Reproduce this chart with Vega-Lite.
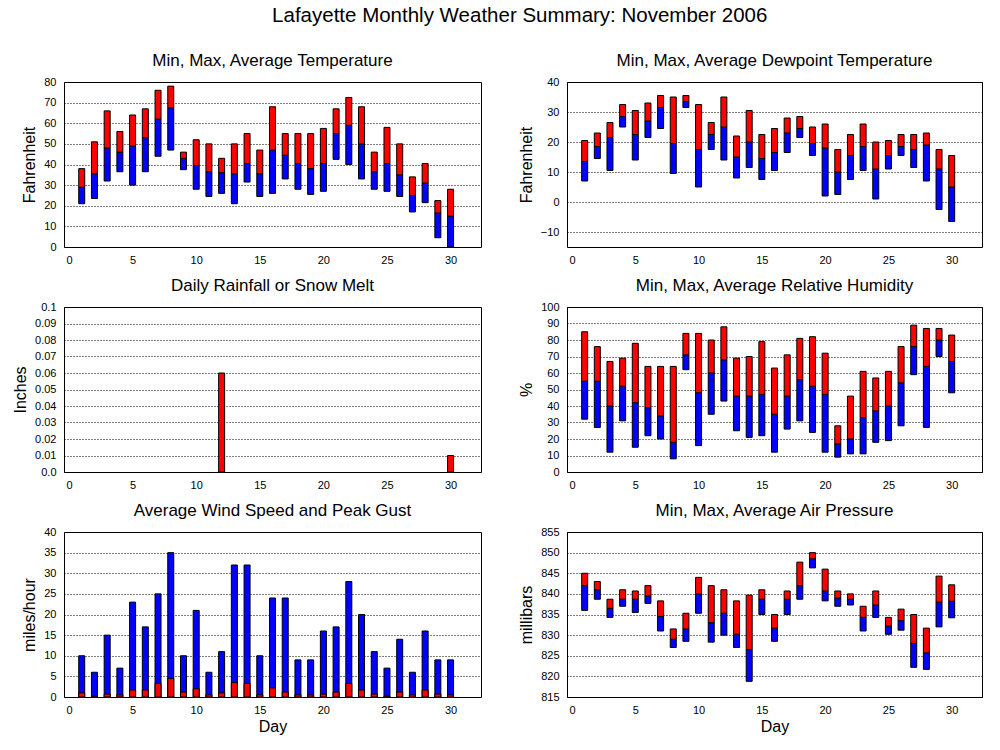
{
  "$schema": "https://vega.github.io/schema/vega-lite/v6.json",
  "title": {"text": "Lafayette Monthly Weather Summary: November 2006", "fontSize": 20.5, "offset": 25, "anchor": "start", "dx": 260},
  "padding": {"left": 12, "top": 6, "right": 18, "bottom": 5},
  "columns": 2,
  "spacing": {"row": 60, "column": 86},
  "bounds": "flush",
  "data": {"values": [
    {"day": 1, "tmin": 21, "tavg": 29, "tmax": 38, "dmin": 7, "davg": 13.5, "dmax": 20.5, "rain": 0, "hmin": 32, "havg": 55, "hmax": 85, "wind": 1, "gust": 10, "pmin": 836, "pavg": 842, "pmax": 845},
    {"day": 2, "tmin": 23.5, "tavg": 35.5, "tmax": 51, "dmin": 14.5, "davg": 18.5, "dmax": 23, "rain": 0, "hmin": 27, "havg": 55, "hmax": 76, "wind": 0.2, "gust": 6, "pmin": 838.7, "pavg": 841, "pmax": 843},
    {"day": 3, "tmin": 32, "tavg": 48, "tmax": 66, "dmin": 10.5, "davg": 21.5, "dmax": 26.5, "rain": 0, "hmin": 12, "havg": 40, "hmax": 67, "wind": 0.7, "gust": 15, "pmin": 834.3, "pavg": 836.5, "pmax": 838.7},
    {"day": 4, "tmin": 36.5, "tavg": 46, "tmax": 56, "dmin": 25, "davg": 28.5, "dmax": 32.5, "rain": 0, "hmin": 31, "havg": 52, "hmax": 69, "wind": 0.5, "gust": 7, "pmin": 837, "pavg": 838.7, "pmax": 841},
    {"day": 5, "tmin": 30, "tavg": 49, "tmax": 64, "dmin": 14, "davg": 22.5, "dmax": 30.5, "rain": 0, "hmin": 15, "havg": 42, "hmax": 78, "wind": 1.7, "gust": 23, "pmin": 835.5, "pavg": 838.7, "pmax": 840.7},
    {"day": 6, "tmin": 36.5, "tavg": 53, "tmax": 67, "dmin": 21.5, "davg": 27, "dmax": 33, "rain": 0, "hmin": 22, "havg": 39, "hmax": 64, "wind": 1.7, "gust": 17, "pmin": 837.7, "pavg": 839.5, "pmax": 842},
    {"day": 7, "tmin": 44, "tavg": 62, "tmax": 76, "dmin": 24.5, "davg": 31.5, "dmax": 35.5, "rain": 0, "hmin": 20, "havg": 34, "hmax": 64, "wind": 3.3, "gust": 25, "pmin": 831, "pavg": 834.5, "pmax": 838.3},
    {"day": 8, "tmin": 47, "tavg": 67.5, "tmax": 78, "dmin": 9.5, "davg": 19.5, "dmax": 35, "rain": 0, "hmin": 8, "havg": 18, "hmax": 64, "wind": 4.5, "gust": 35, "pmin": 827, "pavg": 829, "pmax": 831.5},
    {"day": 9, "tmin": 37.5, "tavg": 43, "tmax": 46, "dmin": 31.5, "davg": 33.5, "dmax": 35.5, "rain": 0, "hmin": 62, "havg": 71, "hmax": 84, "wind": 1.2, "gust": 10, "pmin": 828.5, "pavg": 831.5, "pmax": 835.3},
    {"day": 10, "tmin": 28, "tavg": 39.5, "tmax": 52, "dmin": 5, "davg": 17.5, "dmax": 32.5, "rain": 0, "hmin": 16, "havg": 48, "hmax": 84, "wind": 2, "gust": 21, "pmin": 835.3, "pavg": 840, "pmax": 844},
    {"day": 11, "tmin": 24.5, "tavg": 36.5, "tmax": 50, "dmin": 17.5, "davg": 22.5, "dmax": 26.5, "rain": 0, "hmin": 35, "havg": 60, "hmax": 80, "wind": 0.5, "gust": 6, "pmin": 828.3, "pavg": 833, "pmax": 842},
    {"day": 12, "tmin": 26, "tavg": 36, "tmax": 43, "dmin": 14, "davg": 25, "dmax": 35, "rain": 0.06, "hmin": 43, "havg": 68, "hmax": 88, "wind": 1, "gust": 11, "pmin": 830, "pavg": 835.3, "pmax": 841},
    {"day": 13, "tmin": 21, "tavg": 35.5, "tmax": 50, "dmin": 8, "davg": 15, "dmax": 22, "rain": 0, "hmin": 25, "havg": 46, "hmax": 69, "wind": 3.5, "gust": 32, "pmin": 827, "pavg": 830.2, "pmax": 838.3},
    {"day": 14, "tmin": 31.5, "tavg": 40.5, "tmax": 55, "dmin": 11.5, "davg": 20, "dmax": 30.5, "rain": 0, "hmin": 21, "havg": 46, "hmax": 70, "wind": 3.3, "gust": 32, "pmin": 818.8, "pavg": 826.5, "pmax": 839.7},
    {"day": 15, "tmin": 24.5, "tavg": 35.5, "tmax": 47, "dmin": 7.5, "davg": 14.5, "dmax": 22.5, "rain": 0, "hmin": 22, "havg": 47, "hmax": 79, "wind": 0.5, "gust": 10, "pmin": 835, "pavg": 838.7, "pmax": 841},
    {"day": 16, "tmin": 26, "tavg": 47, "tmax": 68, "dmin": 10.5, "davg": 16.5, "dmax": 24.5, "rain": 0, "hmin": 12, "havg": 35, "hmax": 63, "wind": 2.2, "gust": 24, "pmin": 828.5, "pavg": 831.7, "pmax": 835},
    {"day": 17, "tmin": 33, "tavg": 44.5, "tmax": 55, "dmin": 16.5, "davg": 23, "dmax": 28, "rain": 0, "hmin": 26, "havg": 46, "hmax": 71, "wind": 1.2, "gust": 24, "pmin": 835, "pavg": 838.7, "pmax": 840.7},
    {"day": 18, "tmin": 28, "tavg": 40.5, "tmax": 55, "dmin": 21.5, "davg": 24.5, "dmax": 28.5, "rain": 0, "hmin": 31, "havg": 56, "hmax": 81, "wind": 0.5, "gust": 9, "pmin": 838.7, "pavg": 842, "pmax": 847.7},
    {"day": 19, "tmin": 25.5, "tavg": 38, "tmax": 55, "dmin": 15.5, "davg": 19.5, "dmax": 25, "rain": 0, "hmin": 24, "havg": 52, "hmax": 82, "wind": 0.5, "gust": 9, "pmin": 846.3, "pavg": 848.5, "pmax": 850},
    {"day": 20, "tmin": 27, "tavg": 40.5, "tmax": 57.5, "dmin": 2, "davg": 18, "dmax": 26, "rain": 0, "hmin": 12, "havg": 47, "hmax": 72, "wind": 0.7, "gust": 16, "pmin": 838.3, "pavg": 840.7, "pmax": 846},
    {"day": 21, "tmin": 42.5, "tavg": 55, "tmax": 67, "dmin": 2.5, "davg": 10, "dmax": 17.5, "rain": 0, "hmin": 9, "havg": 17, "hmax": 28, "wind": 1.2, "gust": 17, "pmin": 837, "pavg": 839, "pmax": 840.7},
    {"day": 22, "tmin": 40, "tavg": 59, "tmax": 72.5, "dmin": 7.5, "davg": 15.5, "dmax": 22.5, "rain": 0, "hmin": 11, "havg": 20, "hmax": 46, "wind": 3.3, "gust": 28, "pmin": 837.3, "pavg": 838.7, "pmax": 840},
    {"day": 23, "tmin": 33, "tavg": 50, "tmax": 68, "dmin": 10.5, "davg": 18.5, "dmax": 26, "rain": 0, "hmin": 11, "havg": 33, "hmax": 61, "wind": 1.7, "gust": 20, "pmin": 831, "pavg": 834.3, "pmax": 837},
    {"day": 24, "tmin": 28, "tavg": 36.5, "tmax": 46, "dmin": 1, "davg": 11, "dmax": 20, "rain": 0, "hmin": 18, "havg": 37, "hmax": 57, "wind": 0.7, "gust": 11, "pmin": 834.3, "pavg": 837.3, "pmax": 840.7},
    {"day": 25, "tmin": 27, "tavg": 40.5, "tmax": 58, "dmin": 11, "davg": 15.5, "dmax": 20.5, "rain": 0, "hmin": 19, "havg": 40, "hmax": 61, "wind": 0.2, "gust": 7, "pmin": 830.2, "pavg": 832.2, "pmax": 834.3},
    {"day": 26, "tmin": 24.5, "tavg": 35, "tmax": 50, "dmin": 15.5, "davg": 18.5, "dmax": 22.5, "rain": 0, "hmin": 28, "havg": 54, "hmax": 76, "wind": 1.2, "gust": 14, "pmin": 831.2, "pavg": 833.5, "pmax": 836.3},
    {"day": 27, "tmin": 17, "tavg": 25, "tmax": 34, "dmin": 11.5, "davg": 17.5, "dmax": 22.5, "rain": 0, "hmin": 59, "havg": 76, "hmax": 89, "wind": 0.5, "gust": 6, "pmin": 822.2, "pavg": 828, "pmax": 835},
    {"day": 28, "tmin": 21.5, "tavg": 31, "tmax": 40.5, "dmin": 7, "davg": 19, "dmax": 23, "rain": 0, "hmin": 27, "havg": 64, "hmax": 87, "wind": 1.7, "gust": 16, "pmin": 821.7, "pavg": 825.7, "pmax": 831.7},
    {"day": 29, "tmin": 4.5, "tavg": 16.5, "tmax": 22.5, "dmin": -2.5, "davg": 11, "dmax": 17.5, "rain": 0, "hmin": 70, "havg": 80, "hmax": 87, "wind": 0.7, "gust": 9, "pmin": 832, "pavg": 838, "pmax": 844.3},
    {"day": 30, "tmin": 0, "tavg": 15, "tmax": 28, "dmin": -6.5, "davg": 5, "dmax": 15.5, "rain": 0.01, "hmin": 48, "havg": 67, "hmax": 83, "wind": 0.5, "gust": 9, "pmin": 834.2, "pavg": 838.2, "pmax": 842.2}
  ]},
  "config": {
    "font": "Liberation Sans",
    "view": {"stroke": "black", "strokeWidth": 1},
    "axis": {
      "labelFont": "Liberation Sans", "labelFontSize": 11, "labelColor": "black",
      "titleFont": "Liberation Sans", "titleFontSize": 16, "titleFontWeight": "normal", "titleColor": "black",
      "domain": false, "ticks": false, "tickSize": 0, "labelOverlap": false, "labelBound": false,
      "gridColor": "black", "gridDash": [1, 2], "gridOpacity": 1, "gridWidth": 1
    },
    "axisX": {"grid": false, "labelPadding": 7, "titlePadding": 3, "labelFlush": false},
    "axisY": {"grid": true, "labelPadding": 8, "titlePadding": 6},
    "title": {"fontSize": 17, "fontWeight": "normal", "font": "Liberation Sans", "color": "black", "offset": 6},
    "bar": {"stroke": "black", "strokeWidth": 1, "size": 6}
  },
  "concat": [
    {
      "title": "Min, Max, Average Temperature",
      "width": 417, "height": 165,
      "encoding": {
        "x": {"field": "day", "type": "quantitative", "scale": {"domain": [0, 32], "nice": false}, "axis": {"values": [0, 5, 10, 15, 20, 25, 30], "title": null}}
      },
      "layer": [
        {"mark": {"type": "bar", "color": "#0000ff", "stroke": "black"}, "encoding": {
          "y": {"field": "tmin", "type": "quantitative", "scale": {"domain": [0, 80], "nice": false}, "axis": {"values": [0, 10, 20, 30, 40, 50, 60, 70, 80], "tickCount": 20, "title": "Fahrenheit"}},
          "y2": {"field": "tavg"}}},
        {"mark": {"type": "bar", "color": "#ff0000", "stroke": "black"}, "encoding": {
          "y": {"field": "tavg", "type": "quantitative", "axis": {"values": [0, 10, 20, 30, 40, 50, 60, 70, 80], "tickCount": 20, "title": "Fahrenheit"}},
          "y2": {"field": "tmax"}}}
      ]
    },
    {
      "title": "Min, Max, Average Dewpoint Temperature",
      "width": 415, "height": 165,
      "encoding": {
        "x": {"field": "day", "type": "quantitative", "scale": {"domain": [0, 32], "nice": false}, "axis": {"values": [0, 5, 10, 15, 20, 25, 30], "title": null}}
      },
      "layer": [
        {"mark": {"type": "bar", "color": "#0000ff", "stroke": "black"}, "encoding": {
          "y": {"field": "dmin", "type": "quantitative", "scale": {"domain": [-15, 40], "nice": false, "zero": false}, "axis": {"values": [-10, 0, 10, 20, 30, 40], "tickCount": 20, "title": "Fahrenheit"}},
          "y2": {"field": "davg"}}},
        {"mark": {"type": "bar", "color": "#ff0000", "stroke": "black"}, "encoding": {
          "y": {"field": "davg", "type": "quantitative", "axis": {"values": [-10, 0, 10, 20, 30, 40], "tickCount": 20, "title": "Fahrenheit"}},
          "y2": {"field": "dmax"}}}
      ]
    },
    {
      "title": "Daily Rainfall or Snow Melt",
      "width": 417, "height": 165,
      "transform": [{"filter": "datum.rain > 0"}],
      "mark": {"type": "bar", "color": "#ff0000", "stroke": "black"},
      "encoding": {
        "x": {"field": "day", "type": "quantitative", "scale": {"domain": [0, 32], "nice": false}, "axis": {"values": [0, 5, 10, 15, 20, 25, 30], "title": null}},
        "y": {"field": "rain", "type": "quantitative", "scale": {"domain": [0, 0.1], "nice": false}, "axis": {"values": [0, 0.01, 0.02, 0.03, 0.04, 0.05, 0.06, 0.07, 0.08, 0.09, 0.1], "tickCount": 20, "labelExpr": "datum.value == 0 ? '0.0' : format(datum.value, '.2~f')", "title": "Inches"}}
      }
    },
    {
      "title": "Min, Max, Average Relative Humidity",
      "width": 415, "height": 165,
      "encoding": {
        "x": {"field": "day", "type": "quantitative", "scale": {"domain": [0, 32], "nice": false}, "axis": {"values": [0, 5, 10, 15, 20, 25, 30], "title": null}}
      },
      "layer": [
        {"mark": {"type": "bar", "color": "#0000ff", "stroke": "black"}, "encoding": {
          "y": {"field": "hmin", "type": "quantitative", "scale": {"domain": [0, 100], "nice": false}, "axis": {"values": [0, 10, 20, 30, 40, 50, 60, 70, 80, 90, 100], "tickCount": 20, "title": "%"}},
          "y2": {"field": "havg"}}},
        {"mark": {"type": "bar", "color": "#ff0000", "stroke": "black"}, "encoding": {
          "y": {"field": "havg", "type": "quantitative", "axis": {"values": [0, 10, 20, 30, 40, 50, 60, 70, 80, 90, 100], "tickCount": 20, "title": "%"}},
          "y2": {"field": "hmax"}}}
      ]
    },
    {
      "title": "Average Wind Speed and Peak Gust",
      "width": 417, "height": 165,
      "encoding": {
        "x": {"field": "day", "type": "quantitative", "scale": {"domain": [0, 32], "nice": false}, "axis": {"values": [0, 5, 10, 15, 20, 25, 30], "title": "Day"}}
      },
      "layer": [
        {"mark": {"type": "bar", "color": "#0000ff", "stroke": "black"}, "encoding": {
          "y": {"field": "gust", "type": "quantitative", "scale": {"domain": [0, 40], "nice": false}, "axis": {"values": [0, 5, 10, 15, 20, 25, 30, 35, 40], "tickCount": 20, "title": "miles/hour"}}}},
        {"mark": {"type": "bar", "color": "#ff0000", "stroke": "black"}, "encoding": {
          "y": {"field": "wind", "type": "quantitative", "axis": {"values": [0, 5, 10, 15, 20, 25, 30, 35, 40], "tickCount": 20, "title": "miles/hour"}}}}
      ]
    },
    {
      "title": "Min, Max, Average Air Pressure",
      "width": 415, "height": 165,
      "encoding": {
        "x": {"field": "day", "type": "quantitative", "scale": {"domain": [0, 32], "nice": false}, "axis": {"values": [0, 5, 10, 15, 20, 25, 30], "title": "Day"}}
      },
      "layer": [
        {"mark": {"type": "bar", "color": "#0000ff", "stroke": "black"}, "encoding": {
          "y": {"field": "pmin", "type": "quantitative", "scale": {"domain": [815, 855], "nice": false, "zero": false}, "axis": {"values": [815, 820, 825, 830, 835, 840, 845, 850, 855], "tickCount": 20, "title": "millibars"}},
          "y2": {"field": "pavg"}}},
        {"mark": {"type": "bar", "color": "#ff0000", "stroke": "black"}, "encoding": {
          "y": {"field": "pavg", "type": "quantitative", "axis": {"values": [815, 820, 825, 830, 835, 840, 845, 850, 855], "tickCount": 20, "title": "millibars"}},
          "y2": {"field": "pmax"}}}
      ]
    }
  ]
}
